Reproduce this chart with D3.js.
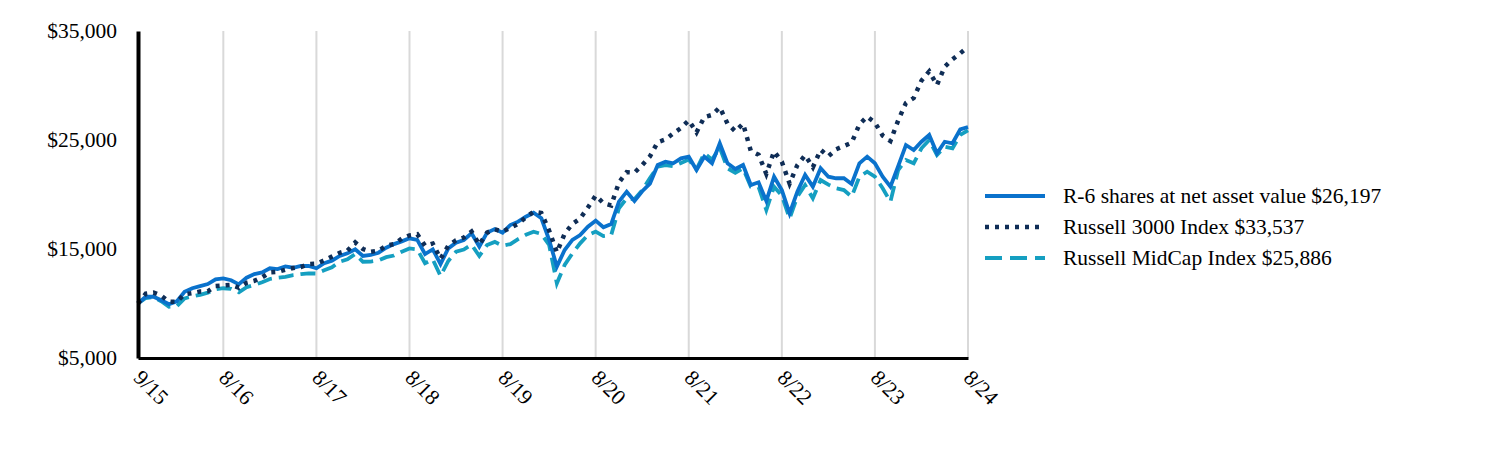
<!DOCTYPE html>
<html>
<head>
<meta charset="utf-8">
<script src="https://cdn.jsdelivr.net/npm/d3@7"></script>
<style>
  body { margin: 0; background: #fff; }
  svg { display: block; font-family: "Liberation Serif", "Times New Roman", serif; }
</style>
</head>
<body>
<svg id="chart" width="1512" height="456"></svg>
<script>
// Growth of $10,000, monthly, 9/15 through 8/24 (108 month-ends)

const tickLabels = ['9/15','8/16','8/17','8/18','8/19','8/20','8/21','8/22','8/23','8/24'];
const tickMonths = [0, 11, 23, 35, 47, 59, 71, 83, 95, 107];
const yTicks = [5000, 15000, 25000, 35000];

const fundR6 = [
  10000, 10620, 10620, 10300, 9930, 10200, 11080, 11400, 11600, 11780, 12220, 12310,
  12130, 11760, 12370, 12700, 12850, 13230, 13160, 13400, 13280, 13460, 13440, 13230,
  13690, 13930, 14360, 14600, 14970, 14360, 14450, 14660, 15120, 15450, 15700, 15980,
  15830, 14540, 14970, 13620, 15060, 15580, 15830, 16440, 15210, 16500, 16830, 16500,
  17200, 17510, 17960, 18330, 17820, 15830, 13380, 14910, 15830, 16280, 17050, 17600,
  16990, 17290, 19340, 20260, 19400, 20300, 21000, 22710, 23010, 22860, 23320, 23470,
  22250, 23470, 22860, 24700, 22860, 22340, 22710, 20870, 21120, 19400, 21630, 20410,
  18270, 20260, 21790, 20720, 22410, 21630, 21490, 21490, 20960, 22860, 23470, 22860,
  21630, 20720, 22600, 24540, 24080, 24840, 25460, 23780, 24840, 24700, 25980, 26197
];

const russell3000 = [
  10000, 10900, 11000, 10720, 10170, 10150, 10840, 10950, 11100, 11120, 11600, 11650,
  11700, 11450, 11900, 12080, 12400, 12850, 12900, 13100, 13250, 13350, 13620, 13650,
  13950, 14300, 14650, 14850, 15600, 15000, 14750, 14850, 15300, 15450, 15950, 16250,
  16350, 15300, 15500, 14100, 15300, 15800, 16050, 16600, 15400, 16500, 16800, 16600,
  16950, 17300, 17900, 18420, 18300, 16700, 14700, 16400, 17300, 17800, 18800, 19900,
  19200, 19000, 21100, 22050, 22000, 22700, 23500, 24800, 25050, 25600, 26100, 26800,
  25700, 27100, 27300, 28000, 26500, 25800, 26500, 24000, 23650, 21900, 23950, 23000,
  21000, 22700, 23600, 22500, 24100, 23500, 24150, 24450, 24750, 26430, 27150, 26600,
  25400, 24900, 26800, 28400, 28850, 30450, 31300, 30050, 31720, 32400, 32950, 33537
];

const russellMidCap = [
  10000, 10500, 10600, 10200, 9700, 9750, 10470, 10650, 10800, 11000, 11300, 11400,
  11350, 11030, 11500, 11700, 11950, 12250, 12370, 12450, 12610, 12700, 12770, 12750,
  13050, 13320, 13830, 14050, 14540, 13830, 13850, 13950, 14250, 14400, 14750, 15050,
  14970, 13690, 14050, 12520, 13900, 14750, 14950, 15400, 14360, 15370, 15650, 15300,
  15450, 15900, 16300, 16590, 16380, 15370, 11850, 13530, 14600, 15520, 16280, 16600,
  16190, 16280, 18730, 19650, 19560, 20400, 21500, 22560, 22700, 22600, 22900, 23200,
  22300, 23780, 23200, 24300, 22400, 22000, 22400, 20720, 20700, 18580, 20720, 19900,
  17810, 19800, 20870, 19650, 21330, 20900, 20570, 20410, 19800, 21630, 22090, 21630,
  20570, 19340, 22250, 23160, 22860, 24240, 25000, 23620, 24390, 24240, 25460, 25886
];

const seriesNames = [
  'R-6 shares at net asset value $26,197',
  'Russell 3000 Index $33,537',
  'Russell MidCap Index $25,886'
];

const series = [
  { name: seriesNames[2], values: russellMidCap, color: '#159fc1', dash: '15,7', legendDash: '17,8', width: 3.8 },
  { name: seriesNames[0], values: fundR6, color: '#0a72cc', dash: null, legendDash: null, width: 3.8 },
  { name: seriesNames[1], values: russell3000, color: '#0f2d56', dash: '4,6', legendDash: '4,6', width: 4.5 }
];
const legendOrder = [1, 2, 0];

const svg = d3.select('#chart');
const margin = { left: 138, right: 544, top: 31, bottom: 98 };
const W = 1512, H = 456;
const fontSize = 21.5;

const x = d3.scaleLinear().domain([0, fundR6.length - 1]).range([margin.left, W - margin.right]);
const y = d3.scaleLinear().domain([5000, 35000]).range([H - margin.bottom, margin.top]);

// vertical gridlines
svg.append('g')
  .selectAll('line')
  .data(tickMonths.slice(1))
  .join('line')
    .attr('x1', d => x(d)).attr('x2', d => x(d))
    .attr('y1', y(35000)).attr('y2', y(5000))
    .attr('stroke', '#d9d9d9')
    .attr('stroke-width', 2);

// lines
const line = d3.line()
  .x((d, i) => x(i))
  .y(d => y(d));

svg.append('g')
  .selectAll('path')
  .data(series)
  .join('path')
    .attr('d', d => line(d.values))
    .attr('fill', 'none')
    .attr('stroke', d => d.color)
    .attr('stroke-width', d => d.width)
    .attr('stroke-dasharray', d => d.dash)
    .attr('stroke-linejoin', 'miter');

// y axis
const yAxis = svg.append('g')
  .attr('transform', `translate(${margin.left},0)`)
  .call(d3.axisLeft(y).tickValues(yTicks).tickSize(0).tickPadding(21)
    .tickFormat(d => '$' + d3.format(',')(d)));
yAxis.select('.domain').attr('stroke', '#000').attr('stroke-width', 4);
yAxis.selectAll('text')
  .attr('font-family', '"Liberation Serif", "Times New Roman", serif')
  .attr('font-size', fontSize)
  .attr('fill', '#000');

// x axis
const xAxis = svg.append('g')
  .attr('transform', `translate(0,${y(5000)})`)
  .call(d3.axisBottom(x).tickValues(tickMonths).tickSize(0)
    .tickFormat((d, i) => tickLabels[i]));
xAxis.select('.domain').attr('stroke', '#000').attr('stroke-width', 3);
xAxis.selectAll('text')
  .attr('font-family', '"Liberation Serif", "Times New Roman", serif')
  .attr('font-size', fontSize)
  .attr('fill', '#000')
  .attr('text-anchor', 'start')
  .attr('dy', 0)
  .attr('y', 0)
  .attr('transform', 'translate(-6,21) rotate(45)');

// legend
const legend = svg.append('g')
  .attr('transform', 'translate(985,196)');

const item = legend.selectAll('g')
  .data(legendOrder.map(i => series[i]))
  .join('g')
    .attr('transform', (d, i) => `translate(0,${i * 31})`);

item.append('line')
  .attr('x1', 0).attr('x2', 60)
  .attr('stroke', d => d.color)
  .attr('stroke-width', d => d.width)
  .attr('stroke-dasharray', d => d.legendDash);

item.append('text')
  .attr('x', 78)
  .attr('dy', '0.33em')
  .attr('font-size', fontSize)
  .attr('fill', '#000')
  .text(d => d.name);
</script>
</body>
</html>
